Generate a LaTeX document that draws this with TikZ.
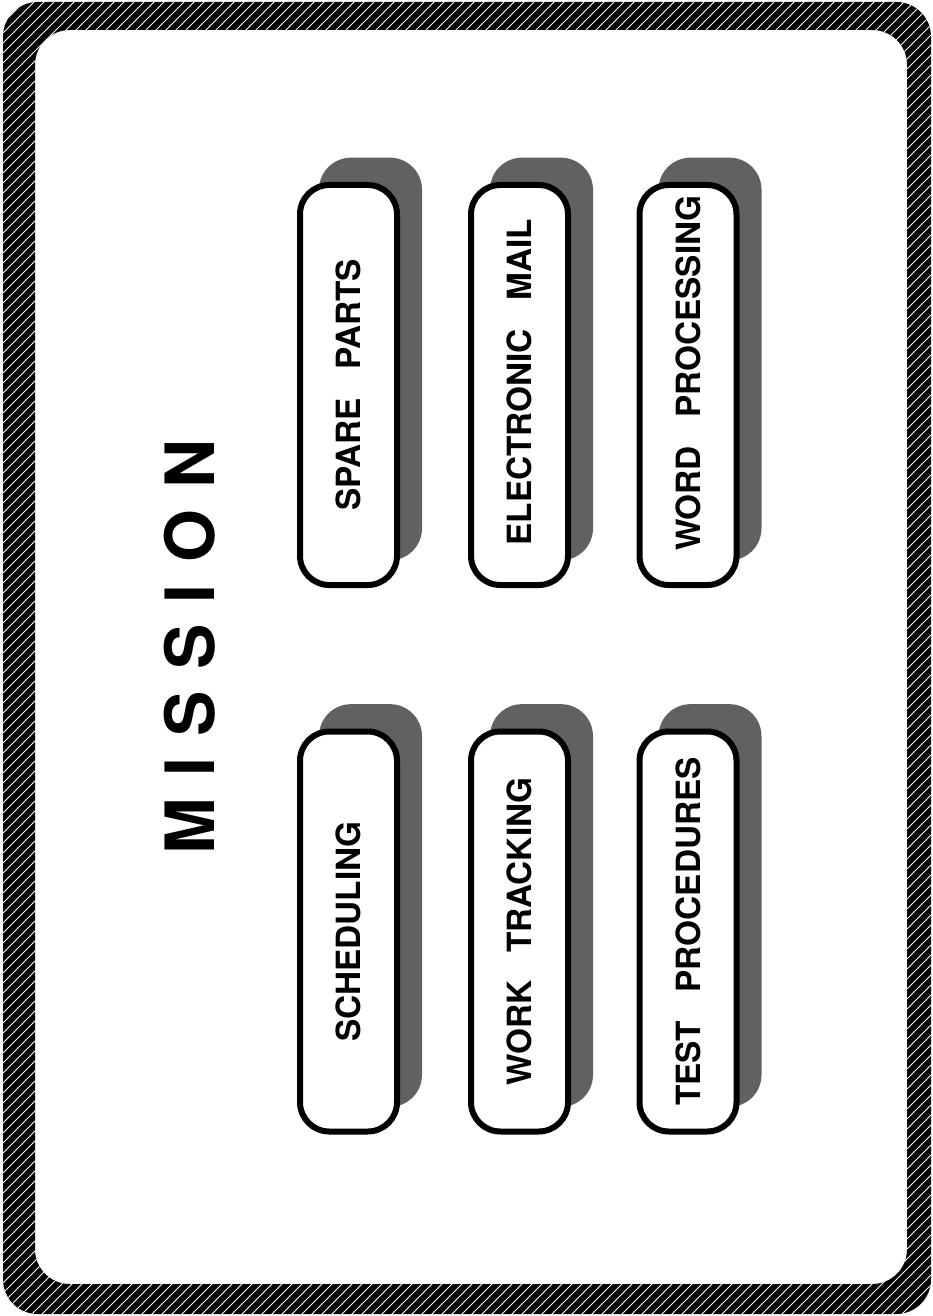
\documentclass[tikz,border=0pt]{standalone}
\usepackage{fontspec}
\setmainfont{TeX Gyre Heros}
\newcommand{\wgap}{\hspace{0.85em}}
\newcommand{\lgap}{\hspace{16pt}}
\begin{document}
\begin{tikzpicture}[x=0.75pt,y=-0.75pt,
  tagbox/.style={draw=black, line width=4.5pt, fill=white, rounded corners=22pt,
    rotate=90, minimum width=300pt, minimum height=72.75pt, inner sep=0pt,
    font=\fontsize{25}{30}\selectfont\bfseries},
  tagshadow/.style={fill=black!62, draw=none, rounded corners=24pt,
    rotate=90, minimum width=302pt, minimum height=77.25pt, inner sep=0pt},
  titlestyle/.style={rotate=90, inner sep=0pt, font=\fontsize{51}{60}\selectfont\bfseries}]
\useasboundingbox (0,0) rectangle (932,1316);
% frame
\fill[black, even odd rule, rounded corners=26pt]
  (3,2) rectangle (931,1314) (35,30) rectangle (907,1284);
\begin{scope}[even odd rule, rounded corners=26pt]
  \clip (3,2) rectangle (931,1314) (35,30) rectangle (907,1284);
  \foreach \i in {-1320,-1310,...,940}
    \draw[white, line width=0.75pt, sharp corners] (\i,1316) -- (\i+1316,0);
\end{scope}
% title
\node[titlestyle] (title) at (190,647) {M\lgap I\lgap S\lgap S\lgap I\lgap O\lgap N};
% shadows
\node[tagshadow] (spsh) at (370.5,359) {};
\node[tagshadow] (emsh) at (541.5,359) {};
\node[tagshadow] (wpsh) at (710,359) {};
\node[tagshadow] (schsh) at (370.5,905.5) {};
\node[tagshadow] (wtsh) at (541.5,905.5) {};
\node[tagshadow] (tpsh) at (710,905.5) {};
% boxes
\node[tagbox] (sp) at (348.5,385) {SPARE\wgap PARTS};
\node[tagbox] (em) at (519.5,385) {\hspace{4pt}ELECTRONIC\wgap MAIL};
\node[tagbox] (wp) at (688,385) {\hspace{18pt}WORD\wgap PROCESSING};
\node[tagbox] (sch) at (348.5,931.5) {SCHEDULING};
\node[tagbox] (wt) at (519.5,931.5) {WORK\wgap TRACKING};
\node[tagbox] (tp) at (688,931.5) {TEST\wgap PROCEDURES};
\end{tikzpicture}
\end{document}
